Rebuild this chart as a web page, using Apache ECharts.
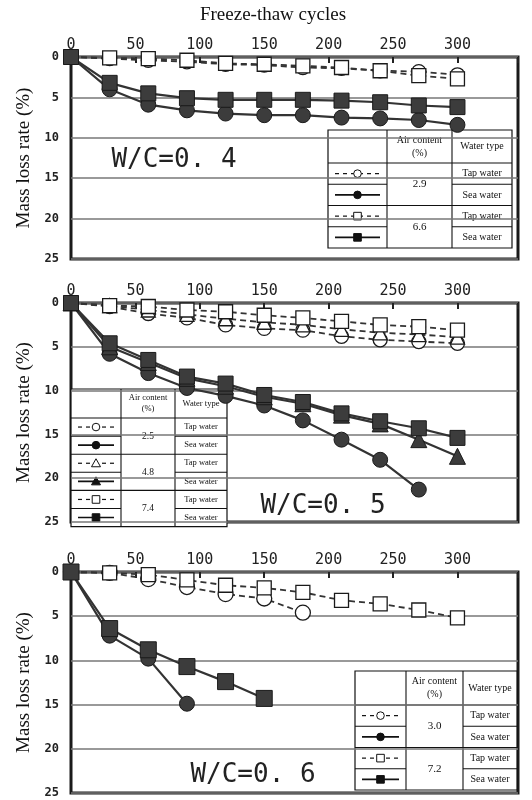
<!DOCTYPE html>
<html>
<head>
<meta charset="utf-8">
<script src="https://cdn.jsdelivr.net/npm/echarts@6/dist/echarts.min.js"></script>
<style>
  html, body { margin: 0; padding: 0; background: #fff; }
  #chart { width: 532px; height: 800px; }
</style>
</head>
<body>
<div id="chart"></div>
<script>
// freeze-thaw cycles on the x axis
const cycles = [0, 30, 60, 90, 120, 150, 180, 210, 240, 270, 300];
const xTicks = [0, 50, 100, 150, 200, 250, 300];
const yTicks = [0, 5, 10, 15, 20, 25];

// W/C = 0.4  (air content 2.9 / 6.6)
const wc04Tap29 = [0, 0.2, 0.4, 0.6, 0.9, 1.0, 1.3, 1.4, 1.7, 1.8, 2.2];
const wc04Sea29 = [0, 4.0, 5.9, 6.6, 7.0, 7.2, 7.2, 7.5, 7.6, 7.8, 8.4];
const wc04Tap66 = [0, 0.1, 0.2, 0.4, 0.8, 0.9, 1.1, 1.3, 1.7, 2.3, 2.7];
const wc04Sea66 = [0, 3.2, 4.5, 5.1, 5.3, 5.3, 5.3, 5.4, 5.6, 6.0, 6.2];

// W/C = 0.5  (air content 2.5 / 4.8 / 7.4)
const wc05Tap25 = [0, 0.4, 1.2, 1.7, 2.5, 2.9, 3.1, 3.8, 4.2, 4.4, 4.6];
const wc05Sea25 = [0, 5.8, 8.0, 9.7, 10.6, 11.7, 13.4, 15.6, 17.9, 21.3];
const wc05Tap48 = [0, 0.3, 0.8, 1.3, 1.8, 2.2, 2.5, 3.0, 3.4, 3.6, 3.9];
const wc05Sea48 = [0, 5.0, 6.8, 8.6, 9.5, 10.7, 11.5, 12.8, 13.8, 15.6, 17.5];
const wc05Tap74 = [0, 0.3, 0.4, 0.8, 1.0, 1.4, 1.7, 2.1, 2.5, 2.7, 3.1];
const wc05Sea74 = [0, 4.6, 6.5, 8.4, 9.2, 10.5, 11.3, 12.6, 13.5, 14.3, 15.4];

// W/C = 0.6  (air content 3.0 / 7.2)
const wc06Tap30 = [0, 0.1, 0.8, 1.7, 2.5, 3.0, 4.6];
const wc06Sea30 = [0, 7.2, 9.8, 14.9];
const wc06Tap72 = [0, 0.1, 0.3, 0.9, 1.5, 1.8, 2.3, 3.2, 3.6, 4.3, 5.2];
const wc06Sea72 = [0, 6.4, 8.8, 10.7, 12.4, 14.3];

const wcLabels = ['W/C=0. 4', 'W/C=0. 5', 'W/C=0. 6'];
const airLabels = [['2.9', '6.6'], ['2.5', '4.8', '7.4'], ['3.0', '7.2']];
const waterTypes = ['Tap water', 'Sea water'];

const INK = '#222';
const numFont = 'DejaVu Sans Mono';
const serif = 'Liberation Serif';

const grids = [
  { left: 71, top: 57, width: 447, height: 202 },
  { left: 71, top: 303, width: 447, height: 219 },
  { left: 71, top: 572, width: 447, height: 221 }
];

function pts(ys) {
  return ys.map((y, i) => [cycles[i], y]);
}

function line(gi, ys, symbol, sea, size) {
  return {
    type: 'line',
    xAxisIndex: gi,
    yAxisIndex: gi,
    data: pts(ys),
    symbol: symbol,
    symbolSize: size || 14,
    showAllSymbol: true,
    animation: false,
    lineStyle: sea ? { color: '#333', width: 2.2 } : { color: '#333', width: 1.8, type: [6, 4] },
    itemStyle: sea
      ? { color: '#3c3c3c', borderColor: '#1a1a1a', borderWidth: 1 }
      : { color: '#fff', borderColor: '#1a1a1a', borderWidth: 1.3 }
  };
}

// legend table drawn with graphic elements
function table(x, y, cw, headH, rowH, airs, symbols, fs) {
  const w = cw[0] + cw[1] + cw[2];
  const h = headH + rowH * airs.length * 2;
  const els = [];
  const st = { stroke: '#111', lineWidth: 1.1 };
  els.push({ type: 'rect', shape: { x: x, y: y, width: w, height: h }, style: { fill: '#fff', stroke: '#111', lineWidth: 1.2 } });
  els.push({ type: 'line', shape: { x1: x + cw[0], y1: y, x2: x + cw[0], y2: y + h }, style: st });
  els.push({ type: 'line', shape: { x1: x + cw[0] + cw[1], y1: y, x2: x + cw[0] + cw[1], y2: y + h }, style: st });
  els.push({ type: 'line', shape: { x1: x, y1: y + headH, x2: x + w, y2: y + headH }, style: st });
  const txt = (tx, ty, s, size) => ({
    type: 'text', x: tx, y: ty,
    style: { text: s, fill: '#111', font: (size || fs) + 'px "' + serif + '"', align: 'center', verticalAlign: 'middle', lineHeight: (size || fs) + 3 }
  });
  els.push(txt(x + cw[0] + cw[1] / 2, y + headH / 2, 'Air content\n(%)'));
  els.push(txt(x + cw[0] + cw[1] + cw[2] / 2, y + headH / 2, 'Water type'));
  airs.forEach((a, g) => {
    const gy = y + headH + g * 2 * rowH;
    if (g > 0) els.push({ type: 'line', shape: { x1: x, y1: gy, x2: x + w, y2: gy }, style: st });
    // inner row line, column 2 is merged
    els.push({ type: 'line', shape: { x1: x, y1: gy + rowH, x2: x + cw[0], y2: gy + rowH }, style: st });
    els.push({ type: 'line', shape: { x1: x + cw[0] + cw[1], y1: gy + rowH, x2: x + w, y2: gy + rowH }, style: st });
    els.push(txt(x + cw[0] + cw[1] / 2, gy + rowH, a, fs + 1));
    for (let r = 0; r < 2; r++) {
      const cy = gy + rowH * r + rowH / 2;
      els.push(txt(x + cw[0] + cw[1] + cw[2] / 2, cy, waterTypes[r]));
      const sea = r === 1;
      const x1 = x + 7, x2 = x + cw[0] - 7, cx = x + cw[0] / 2;
      els.push({ type: 'line', shape: { x1: x1, y1: cy, x2: x2, y2: cy },
        style: { stroke: '#111', lineWidth: sea ? 1.6 : 1.2, lineDash: sea ? null : [4, 4] } });
      const fill = sea ? '#111' : '#fff';
      const ms = { fill: fill, stroke: '#111', lineWidth: 1 };
      if (symbols[g] === 'circle') els.push({ type: 'circle', shape: { cx: cx, cy: cy, r: 3.8 }, style: ms });
      else if (symbols[g] === 'rect') els.push({ type: 'rect', shape: { x: cx - 3.8, y: cy - 3.8, width: 7.6, height: 7.6 }, style: ms });
      else els.push({ type: 'polygon', shape: { points: [[cx, cy - 4.5], [cx - 4.5, cy + 3.5], [cx + 4.5, cy + 3.5]] }, style: ms });
    }
  });
  return { type: 'group', z: 100, children: els };
}

const chart = echarts.init(document.getElementById('chart'), null, { renderer: 'canvas' });

const option = {
  backgroundColor: '#fff',
  animation: false,
  grid: grids.map(g => Object.assign({ show: true, borderColor: '#1a1a1a', borderWidth: 3, backgroundColor: 'transparent' }, g)),
  xAxis: grids.map((g, i) => ({
    gridIndex: i,
    type: 'value',
    position: 'top',
    min: 0,
    max: 347,
    interval: 50,
    axisLine: { show: false },
    axisTick: { inside: true, length: 6, lineStyle: { color: INK, width: 2 } },
    axisLabel: {
      margin: 4,
      fontFamily: numFont,
      fontSize: 15,
      color: INK,
      formatter: v => (xTicks.indexOf(v) >= 0 ? String(v) : '')
    },
    splitLine: { show: false }
  })),
  yAxis: grids.map((g, i) => ({
    gridIndex: i,
    type: 'value',
    inverse: true,
    min: 0,
    max: 25,
    interval: 5,
    axisLine: { show: false },
    axisTick: { show: false },
    axisLabel: {
      margin: 12,
      fontFamily: numFont,
      fontSize: 12,
      fontWeight: 'bold',
      color: INK,
      formatter: v => (yTicks.indexOf(v) >= 0 ? String(v) : '')
    },
    splitLine: { lineStyle: { color: '#777', width: 1.5 } },
    name: 'Mass loss rate (%)',
    nameLocation: 'middle',
    nameGap: 35,
    nameTextStyle: { fontFamily: serif, fontSize: 19, color: '#111' }
  })),
  series: [
    line(0, wc04Tap29, 'circle', false, 14),
    line(0, wc04Sea29, 'circle', true, 15),
    line(0, wc04Tap66, 'rect', false, 14),
    line(0, wc04Sea66, 'rect', true, 15),

    line(1, wc05Tap25, 'circle', false, 14),
    line(1, wc05Sea25, 'circle', true, 15),
    line(1, wc05Tap48, 'triangle', false, 14),
    line(1, wc05Sea48, 'triangle', true, 16),
    line(1, wc05Tap74, 'rect', false, 14),
    line(1, wc05Sea74, 'rect', true, 15),

    line(2, wc06Tap30, 'circle', false, 15),
    line(2, wc06Sea30, 'circle', true, 15),
    line(2, wc06Tap72, 'rect', false, 14),
    line(2, wc06Sea72, 'rect', true, 16)
  ],
  graphic: [
    { type: 'text', x: 273, y: 15, style: { text: 'Freeze-thaw cycles', font: '19px "' + serif + '"', fill: '#111', align: 'center', verticalAlign: 'middle' } },
    { type: 'text', x: 174, y: 160, z: 50, style: { text: wcLabels[0], font: '26px "' + numFont + '"', fill: INK, align: 'center', verticalAlign: 'middle' } },
    { type: 'text', x: 323, y: 506, z: 50, style: { text: wcLabels[1], font: '26px "' + numFont + '"', fill: INK, align: 'center', verticalAlign: 'middle' } },
    { type: 'text', x: 253, y: 775, z: 50, style: { text: wcLabels[2], font: '26px "' + numFont + '"', fill: INK, align: 'center', verticalAlign: 'middle' } },
    table(328, 130, [59, 65, 60], 33, 21.25, airLabels[0], ['circle', 'rect'], 10),
    table(71, 389, [50, 54, 52], 29, 18.1, airLabels[1], ['circle', 'triangle', 'rect'], 8.5),
    table(355, 671, [51, 57, 54], 34, 21.25, airLabels[2], ['circle', 'rect'], 10)
  ]
};

chart.setOption(option);
</script>
</body>
</html>
